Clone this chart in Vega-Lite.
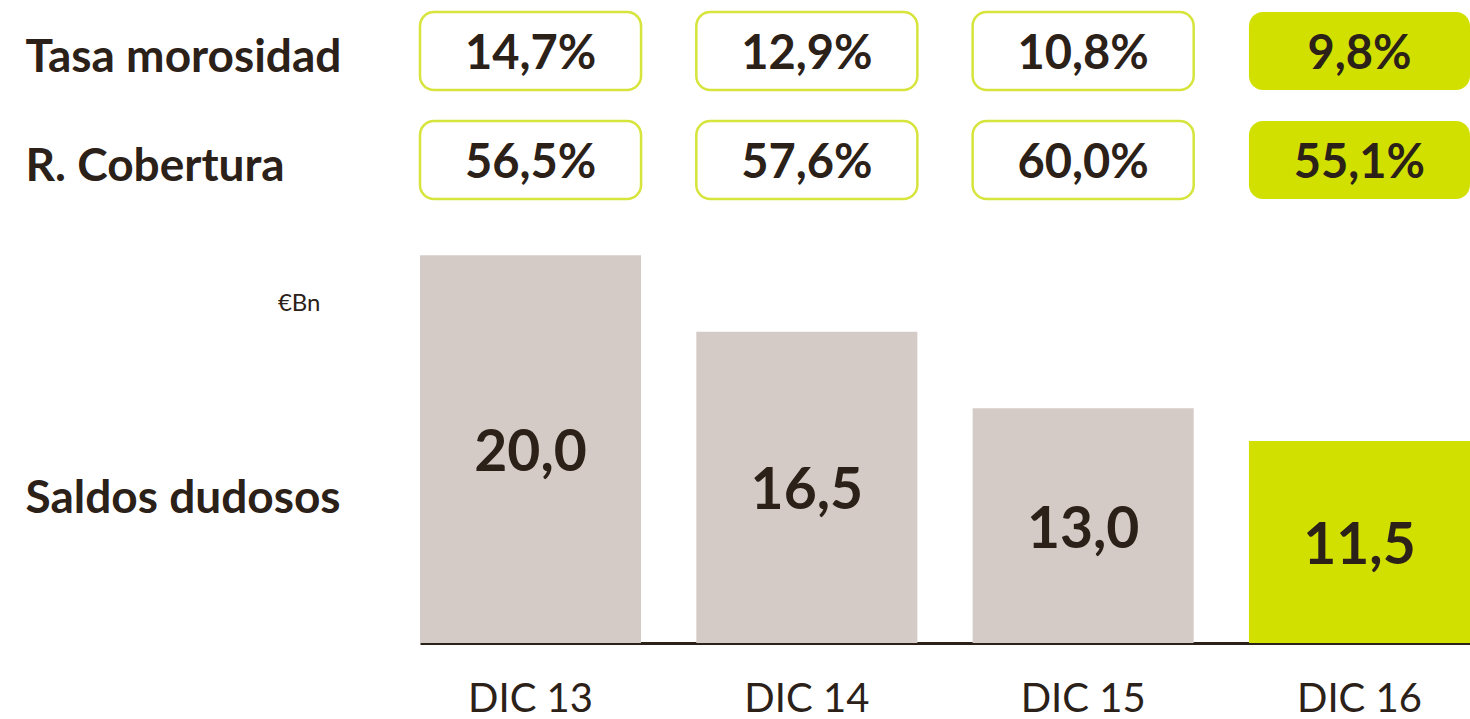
{
  "$schema": "https://vega.github.io/schema/vega-lite/v6.json",
  "padding": {"left": 25, "top": 0, "right": 0, "bottom": 0},
  "spacing": 17,
  "datasets": {
    "ratios": [
      {"periodo": "DIC 13", "metrica": "Tasa morosidad", "valor": 0.147},
      {"periodo": "DIC 14", "metrica": "Tasa morosidad", "valor": 0.129},
      {"periodo": "DIC 15", "metrica": "Tasa morosidad", "valor": 0.108},
      {"periodo": "DIC 16", "metrica": "Tasa morosidad", "valor": 0.098},
      {"periodo": "DIC 13", "metrica": "R. Cobertura", "valor": 0.565},
      {"periodo": "DIC 14", "metrica": "R. Cobertura", "valor": 0.576},
      {"periodo": "DIC 15", "metrica": "R. Cobertura", "valor": 0.600},
      {"periodo": "DIC 16", "metrica": "R. Cobertura", "valor": 0.551}
    ],
    "saldos": [
      {"periodo": "DIC 13", "saldo": 20.0},
      {"periodo": "DIC 14", "saldo": 16.5},
      {"periodo": "DIC 15", "saldo": 13.0},
      {"periodo": "DIC 16", "saldo": 11.5}
    ]
  },
  "vconcat": [
    {
      "width": 1050,
      "height": 211,
      "data": {"name": "ratios"},
      "layer": [
        {
          "mark": {"type": "rect", "cornerRadius": 14},
          "encoding": {
            "x": {"field": "periodo", "type": "nominal", "sort": ["DIC 13", "DIC 14", "DIC 15", "DIC 16"], "scale": {"paddingInner": 0.2, "paddingOuter": 0}, "axis": null},
            "y": {
              "field": "metrica", "type": "nominal", "sort": ["Tasa morosidad", "R. Cobertura"],
              "scale": {"paddingInner": 0.285, "paddingOuter": 0.11},
              "axis": {
                "title": null, "domain": false, "ticks": false, "tickSize": 0, "grid": false,
                "labelAlign": "left", "labelPadding": 395, "labelLimit": 600, "labelOffset": 7,
                "labelFont": "Lato", "labelFontSize": 46, "labelFontWeight": "bold", "labelColor": "#2b2118", "labelBaseline": "middle"
              }
            },
            "fill": {"condition": {"test": "datum.periodo === 'DIC 16'", "value": "#d2e000"}, "value": "#ffffff"},
            "stroke": {"condition": {"test": "datum.periodo === 'DIC 16'", "value": "#d2e000"}, "value": "#d6e43c"},
            "strokeWidth": {"condition": {"test": "datum.periodo === 'DIC 16'", "value": 0}, "value": 2.5}
          }
        },
        {
          "mark": {"type": "text", "font": "Lato", "fontSize": 47, "fontWeight": "bold", "color": "#2b2118", "baseline": "middle", "dy": 4},
          "encoding": {
            "x": {"field": "periodo", "type": "nominal", "sort": ["DIC 13", "DIC 14", "DIC 15", "DIC 16"]},
            "y": {"field": "metrica", "type": "nominal", "sort": ["Tasa morosidad", "R. Cobertura"]},
            "text": {"field": "valor", "type": "quantitative", "format": ".1%"}
          }
        }
      ]
    },
    {
      "width": 1050,
      "height": 415,
      "data": {"name": "saldos"},
      "layer": [
        {
          "mark": {"type": "bar"},
          "encoding": {
            "x": {
              "field": "periodo", "type": "nominal", "sort": ["DIC 13", "DIC 14", "DIC 15", "DIC 16"],
              "scale": {"paddingInner": 0.2, "paddingOuter": 0},
              "axis": {
                "title": null, "labelAngle": 0, "ticks": false, "tickSize": 0, "grid": false,
                "labelPadding": 36, "labelFont": "Lato", "labelFontSize": 40, "labelColor": "#2b2118",
                "domainColor": "#2b2118", "domainWidth": 3
              }
            },
            "y": {
              "field": "saldo", "type": "quantitative",
              "scale": {"domain": [2.25, 21.25], "zero": false, "nice": false},
              "axis": {
                "values": [17.8], "labelExpr": "'€Bn'", "grid": false, "domain": false, "ticks": false, "tickSize": 0,
                "labelPadding": 100, "labelFont": "Lato", "labelFontSize": 24, "labelColor": "#2b2118", "labelBaseline": "middle",
                "title": "Saldos dudosos", "titleAngle": 0, "titleAlign": "left", "titleBaseline": "middle",
                "titleX": -395, "titleY": 270, "titleFont": "Lato", "titleFontSize": 46, "titleFontWeight": "bold", "titleColor": "#2b2118"
              }
            },
            "y2": {"datum": 2.25},
            "color": {"condition": {"test": "datum.periodo === 'DIC 16'", "value": "#d2e000"}, "value": "#d5cbc6"}
          }
        },
        {
          "mark": {"type": "text", "font": "Lato", "fontSize": 57, "fontWeight": "bold", "color": "#2b2118", "baseline": "middle", "dy": 5},
          "encoding": {
            "x": {"field": "periodo", "type": "nominal", "sort": ["DIC 13", "DIC 14", "DIC 15", "DIC 16"]},
            "y": {"field": "saldo", "type": "quantitative", "scale": {"domain": [2.25, 40.25], "zero": false, "nice": false}, "axis": null},
            "text": {"field": "saldo", "type": "quantitative", "format": ".1f"}
          }
        }
      ],
      "resolve": {"scale": {"y": "independent"}}
    }
  ],
  "config": {
    "view": {"stroke": null},
    "font": "Lato",
    "locale": {"number": {"decimal": ",", "thousands": ".", "grouping": [3], "currency": ["", " €"]}}
  }
}
